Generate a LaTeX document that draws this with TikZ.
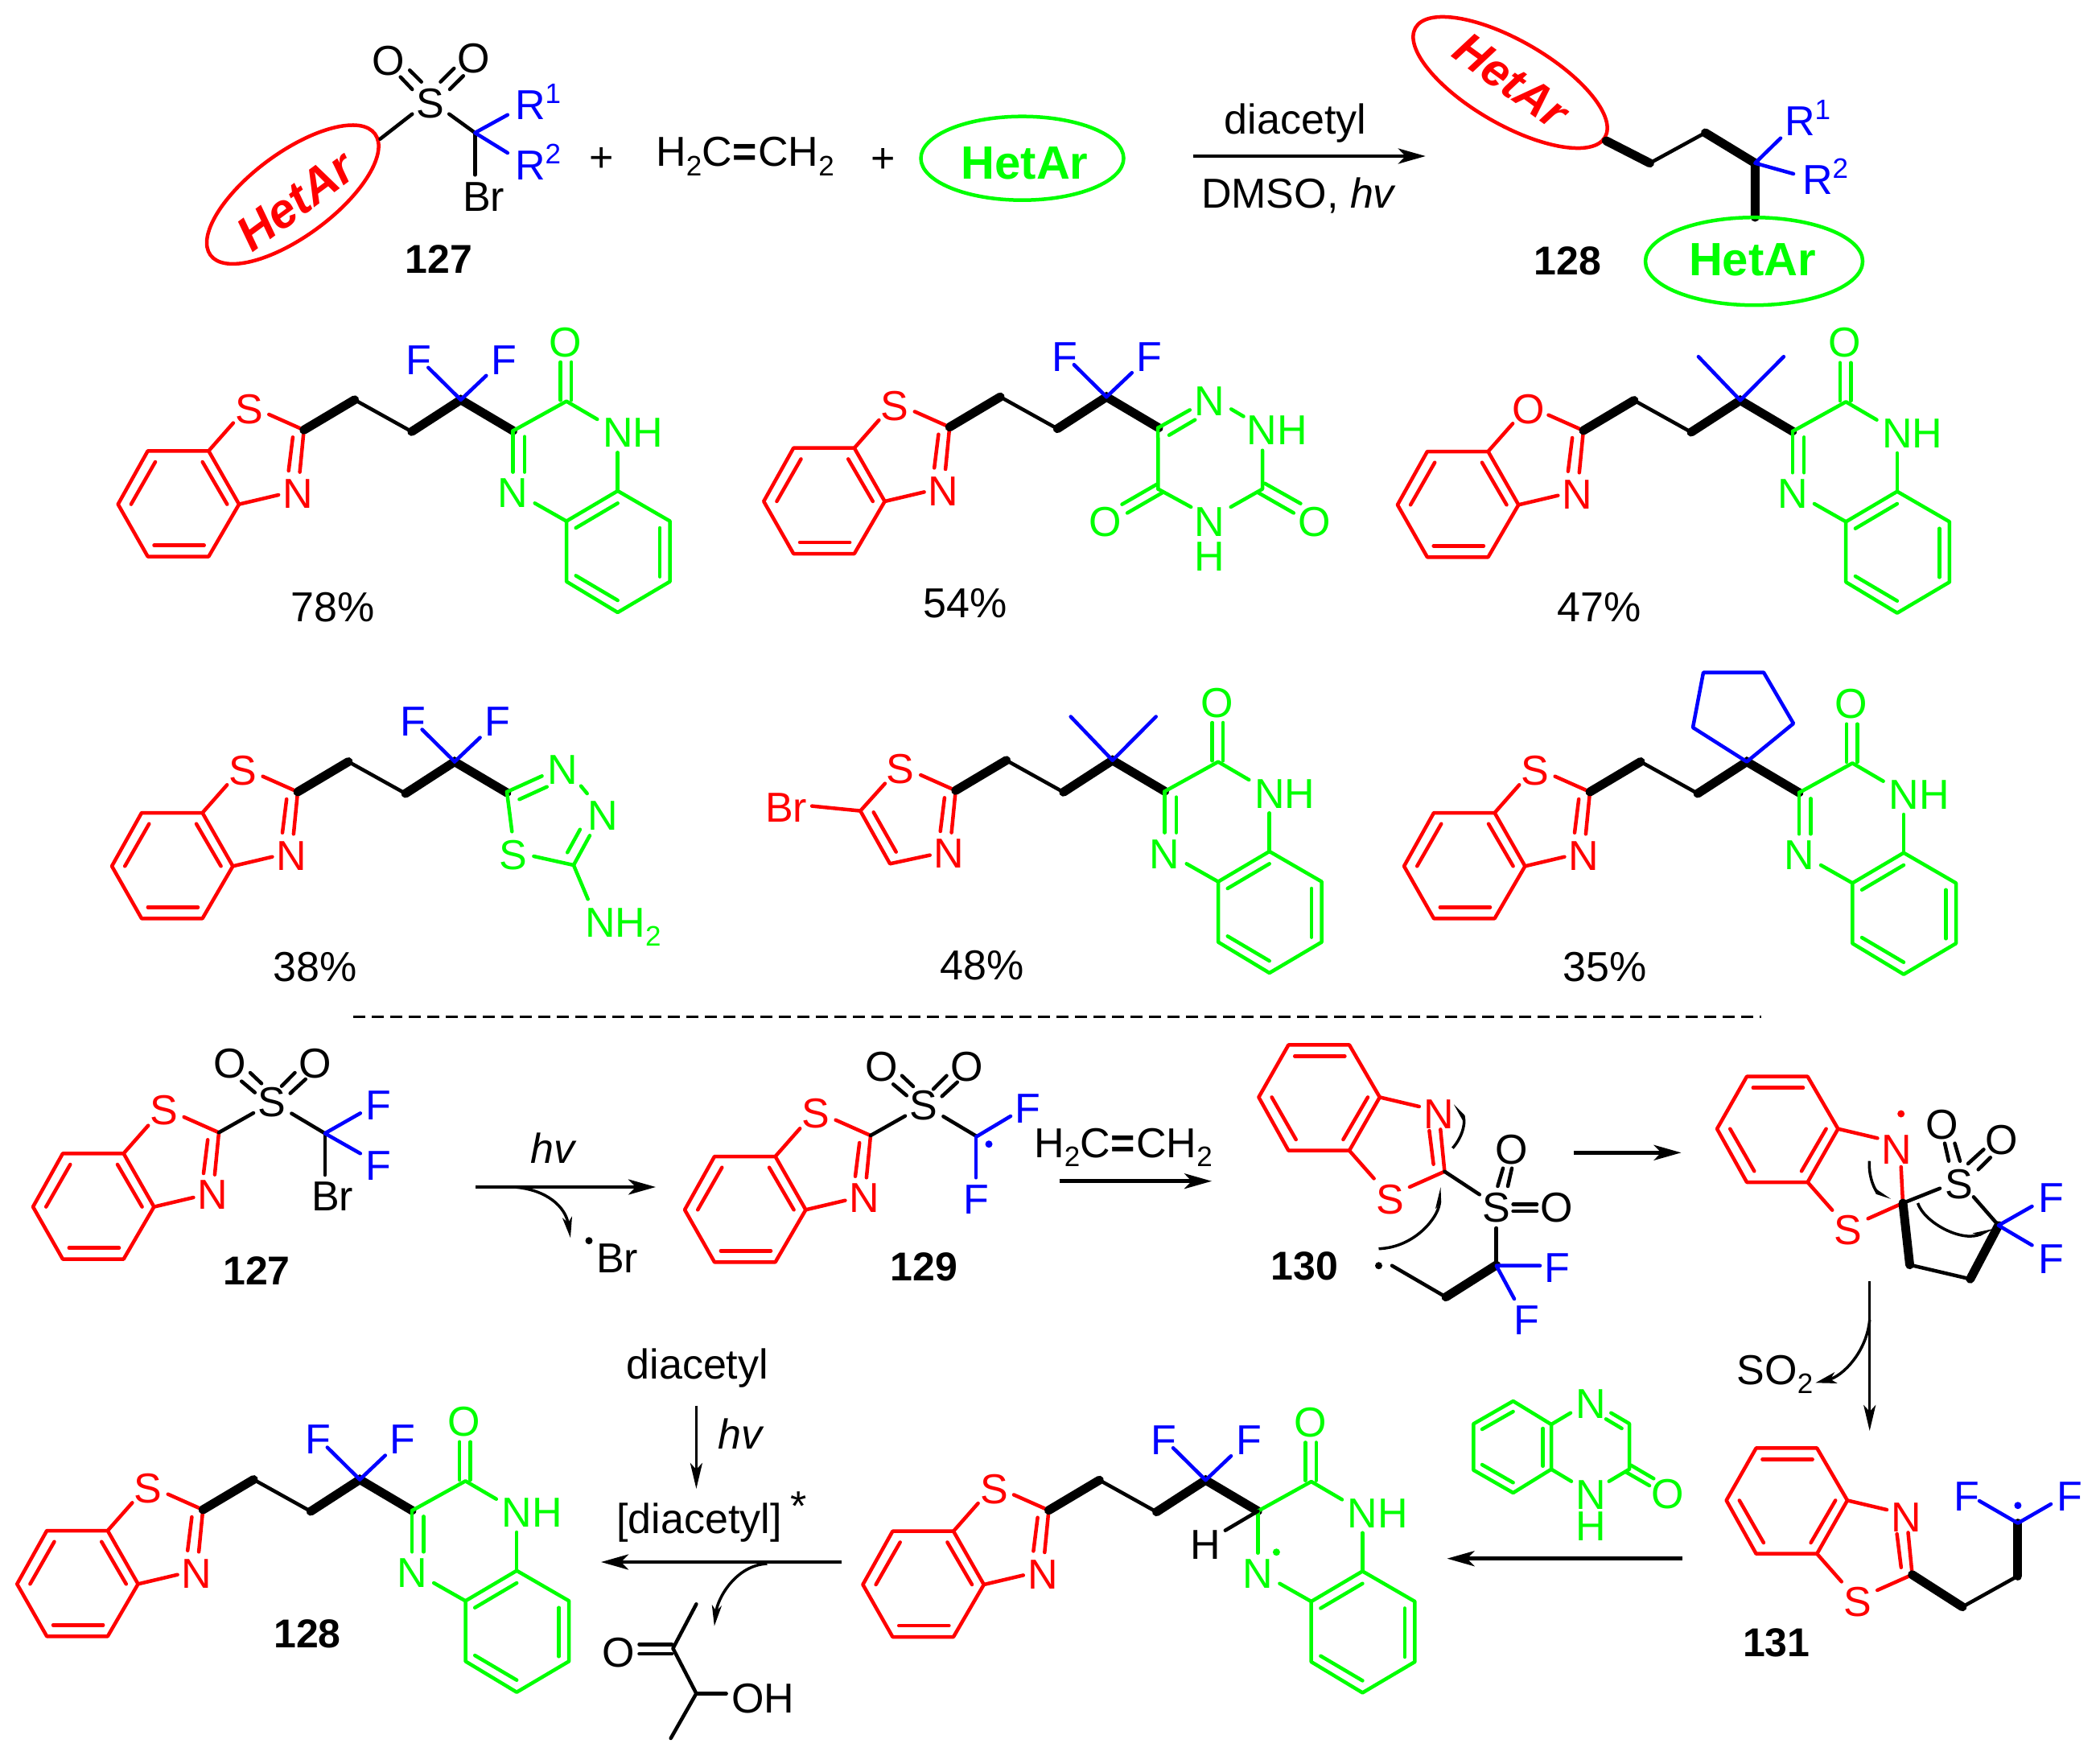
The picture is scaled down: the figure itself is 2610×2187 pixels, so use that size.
\documentclass[tikz,border=0pt]{standalone}
\usepackage{fontspec}
\setmainfont{Liberation Sans}
\usetikzlibrary{shapes.geometric,arrows.meta}
\definecolor{cr}{RGB}{255,0,0}
\definecolor{cg}{RGB}{0,255,0}
\definecolor{cb}{RGB}{0,0,255}
\newcommand{\chfont}{\fontsize{52}{60}\selectfont}
\newcommand{\chsub}[1]{\raisebox{-11.5pt}{\fontsize{35}{35}\selectfont #1}}
\newcommand{\chsup}[1]{\raisebox{20pt}{\fontsize{35}{35}\selectfont #1}}
\newcommand{\chethene}{H\chsub{2}C\kern1pt\textbf{=}\kern1pt CH\chsub{2}}
\tikzset{
  bd/.style={line width=4.5pt,line cap=round,line join=round},
  rb/.style={bd,draw=cr},
  gb/.style={bd,draw=cg},
  bb/.style={bd,draw=cb},
  kb/.style={bd,draw=black},
  hb/.style={line width=11pt,line cap=round,line join=miter,draw=black},
  atom/.style={inner sep=0pt,outer sep=0pt,font=\chfont,yshift=-1.5pt},
  ra/.style={atom,text=cr},
  ga/.style={atom,text=cg},
  ba/.style={atom,text=cb},
  ka/.style={atom,text=black},
  lab/.style={atom,text=black,font=\fontsize{50}{60}\selectfont\bfseries},
  rdot/.style={circle,fill,inner sep=0pt,minimum size=9pt},
  rxn/.style={line width=4.5pt,-{Stealth[length=34pt,width=19pt,inset=9pt]}},
  rxnb/.style={line width=3.5pt,-{Stealth[length=32pt,width=15pt,inset=8pt]}},
  half/.style={line width=3.5pt,-{Stealth[length=20pt,width=11pt,inset=5pt,harpoon]}},
  ell/.style={ellipse,inner sep=0pt,outer sep=0pt,line width=4.5pt},
  het/.style={inner sep=0pt,outer sep=0pt,font=\fontsize{58}{60}\selectfont\bfseries},
}
\newcommand{\BTring}{%
  \draw[rb] (-194,26)--(-118.4,26)--(-80.6,92.3)--(-118.4,157.3)--(-194,157.3)--(-231,92.3)--cycle;
  \draw[rb] (-184.7,39.7)--(-214.8,92.3);
  \draw[rb] (-126,39.7)--(-95.4,92.3);
  \draw[rb] (-186.2,143.3)--(-124,143.3);
}
\newcommand{\TZpart}[3]{%
  \draw[rb] (-43.4,-19.3)--(0,0);
  \draw[rb] (-87.8,-8.7)--(-118.4,26);
  \draw[rb] (-31.6,80.7)--(-80.6,92.3);
  \node[ra] (X) at (-68,#2) {#1};
  \node[ra] (N) at (-7.5,#3) {N};
}
\newcommand{\CNd}{%
  \draw[rb] (0,0)--(-5.1,52.3);
  \draw[rb] (-13.8,9)--(-19,50.7);
}
\newcommand{\Chain}{%
  \draw[hb] (0,0)--(63,-37.5);
  \draw[kb] (63,-37.5)--(134,2);
  \draw[hb] (134,2)--(195,-37.5)--(260,1);
}
\newcommand{\Fa}{%
  \draw[bb] (195,-37.5)--(154.6,-77.5);
  \draw[bb] (195,-37.5)--(226.6,-67.5);
  \node[ba] (F1) at (143,-88.5) {F};
  \node[ba] (F2) at (248.5,-88.5) {F};
}
\newcommand{\Me}{%
  \draw[bb] (143,-91.8)--(195,-37.5)--(249,-91.8);
}
\newcommand{\Qx}{%
  \draw[gb] (0,0)--(66.3,-36.7)--(104.6,-14.3);
  \draw[gb] (59,-38)--(59,-85.3);
  \draw[gb] (72.4,-38)--(72.4,-85.3);
  \node[ga] (O) at (65,-111.7) {O};
  \node[ga] (NH) at (149,1.3) {NH};
  \draw[gb] (130,27)--(130,74.7);
  \node[ga] (NB) at (0,76.3) {N};
  \draw[gb] (27,90)--(66.3,112.3);
  \draw[gb] (130,74.7)--(195,112.3)--(195,187.3)--(130,225.7)--(66.3,187.3)--(66.3,112.3)--cycle;
  \draw[gb] (130,90)--(78,120.7);
  \draw[gb] (182.4,120.7)--(182.4,181.3);
  \draw[gb] (130,210.7)--(78,180);
}
\newcommand{\QxD}{%
  \draw[gb] (0,0)--(0,51.3);
  \draw[gb] (14.3,7.3)--(14.3,51.3);
}
\newcommand{\Sulf}{%
  \draw[kb] (0,0)--(43,-24.3);
  \draw[kb] (44.8,-49.7)--(28.2,-63.7);
  \draw[kb] (53,-61)--(39,-74.3);
  \draw[kb] (78,-57.7)--(94.5,-74.3);
  \draw[kb] (88.7,-48.7)--(107.8,-66.3);
  \draw[kb] (90.4,-23.7)--(131.8,1);
  \node[ka] (SS) at (66.3,-39) {S};
  \node[ka] (O1) at (14,-87) {O};
  \node[ka] (O2) at (119.4,-87) {O};
}
\begin{document}
\begin{tikzpicture}[x=1pt,y=-1pt]
\useasboundingbox (0,0) rectangle (2610,2187);
% ---------- top equation
\node[ell,draw=cr,minimum width=254pt,minimum height=104pt,rotate=36.4] (e1) at (363.8,241.7) {};
\node[het,text=cr,rotate=36.4,font=\fontsize{60}{60}\selectfont\bfseries\itshape] (t1) at (367,250) {HetAr};
\draw[kb] (472.5,172.7)--(512.3,141.7);
\draw[kb] (558.2,141.7)--(590.3,165);
\draw[kb] (497.7,95.7)--(512.3,111);
\draw[kb] (509.2,87.3)--(523.7,101.7);
\draw[kb] (547.5,101.7)--(564.3,85);
\draw[kb] (559,111)--(575.8,94.3);
\draw[kb] (590.3,165)--(590.3,217.3);
\draw[bb] (630.9,142.7)--(590.3,165)--(630.9,190);
\node[ka] (s0) at (535.2,126.7) {S};
\node[ka] (o01) at (482.4,74) {O};
\node[ka] (o02) at (588.8,70.7) {O};
\node[ka] (br0) at (601,242.7) {Br};
\node[ba,anchor=base west,yshift=1.5pt] (r01) at (640,148.3) {R\chsup{1}};
\node[ba,anchor=base west,yshift=1.5pt] (r02) at (640,223.3) {R\chsup{2}};
\node[lab] (l127a) at (545.2,320.7) {127};
\node[ka] (p1) at (748,196.7) {+};
\node[ka,anchor=base,yshift=1.5pt] (ethy) at (926,206.7) {\chethene};
\node[ka] (p2) at (1097.6,198) {+};
\node[ell,draw=cg,minimum width=252pt,minimum height=104pt] (e2) at (1270.5,196.7) {};
\node[het,text=cg] (t2) at (1273.6,203) {HetAr};
\coordinate (a1s) at (1483,194);
\coordinate (a1e) at (1771.8,194);
\draw[rxn] (a1s)--(a1e);
\node[ka,anchor=base,yshift=1.5pt] (d1) at (1610,166.7) {diacetyl};
\node[ka,anchor=base,yshift=1.5pt] (d2) at (1613,258.3) {DMSO, \itshape hv};
\node[ell,draw=cr,minimum width=272pt,minimum height=104pt,rotate=-30] (e3) at (1877,102.5) {};
\node[het,text=cr,rotate=-36,font=\fontsize{58}{60}\selectfont\bfseries\itshape] (t3) at (1878,100) {HetAr};
\draw[hb] (1996.3,175)--(2050.5,202.7);
\draw[kb] (2050.5,202.7)--(2119.4,165);
\draw[hb] (2119.4,165)--(2181.3,202.7)--(2181.3,270);
\draw[bb] (2213,171.7)--(2181.3,202.7)--(2229,216);
\node[ba,anchor=base west,yshift=1.5pt] (r11) at (2218,168.3) {R\chsup{1}};
\node[ba,anchor=base west,yshift=1.5pt] (r12) at (2240,241.7) {R\chsup{2}};
\node[ell,draw=cg,minimum width=270pt,minimum height=109pt] (e4) at (2180,324.7) {};
\node[het,text=cg] (t4) at (2178,323.3) {HetAr};
\node[lab] (l128a) at (1948.5,322.7) {128};
% ---------- row 1
\begin{scope}[shift={(377.7,534.3)},name prefix=m1-]
  \BTring\TZpart{S}{-27.5}{78}\CNd\Chain\Fa
  \begin{scope}[shift={(260,1)}]\Qx\QxD\end{scope}
\end{scope}
\node[ka] (y1) at (413.4,752.7) {78\%};
\begin{scope}[shift={(1180.2,530.7)},name prefix=m2-]
  \BTring\TZpart{S}{-27.5}{78}\CNd\Chain\Fa
  \draw[gb] (259,1)--(298.6,-21.3);
  \draw[gb] (272.8,10)--(305,-9);
  \draw[gb] (259,1)--(259.2,77);
  \draw[gb] (350,-22.3)--(365.3,-13.3);
  \draw[gb] (388.8,29)--(388.8,77)--(349.5,99.3);
  \draw[gb] (300,99.3)--(259.2,77);
  \draw[gb] (265.3,81)--(220.9,106.7);
  \draw[gb] (257.7,71)--(214.3,96);
  \draw[gb] (382.7,81)--(427.6,106.7);
  \draw[gb] (391.8,70)--(436.2,95);
  \node[ga] (Na) at (322.7,-34) {N};
  \node[ga] (NHa) at (407,2.7) {NH};
  \node[ga] (Nb) at (322.7,116.7) {N};
  \node[ga] (Hb) at (322.7,159.3) {H};
  \node[ga] (Oa) at (194,116) {O};
  \node[ga] (Ob) at (454,116) {O};
\end{scope}
\node[ka] (y2) at (1199.6,748.3) {54\%};
\begin{scope}[shift={(1967.9,535)},name prefix=m3-]
  \BTring\TZpart{O}{-27.5}{78}\CNd\Chain\Me
  \begin{scope}[shift={(260,1)}]\Qx\QxD\end{scope}
\end{scope}
\node[ka] (y3) at (1988,752.7) {47\%};
% ---------- row 2
\begin{scope}[shift={(370,984)},name prefix=m4-]
  \BTring\TZpart{S}{-27.5}{78}\CNd\Chain\Fa
  \draw[gb] (260,0)--(303.6,-19.7);
  \draw[gb] (275.5,9.3)--(309.7,-6.3);
  \draw[gb] (352,-7.3)--(359.7,2);
  \draw[gb] (363,54.3)--(342.9,91)--(293.4,80);
  \draw[gb] (350.9,46.7)--(335.2,75.3);
  \draw[gb] (266.3,49.3)--(260,0);
  \draw[gb] (342.9,91)--(360.7,133.3);
  \node[ga] (Na) at (328.8,-29) {N};
  \node[ga] (Nb) at (378.8,27.7) {N};
  \node[ga] (Sa) at (267.9,76.7) {S};
  \node[ga,anchor=base west,yshift=1.5pt] (NH2) at (357,180) {NH\chsub{2}};
\end{scope}
\node[ka] (y4) at (391.4,1200) {38\%};
\begin{scope}[shift={(1187.7,982.3)},name prefix=m5-]
  \draw[rb] (-118.4,25.3)--(-81.6,91)--(-32,80.3);
  \draw[rb] (-102,27)--(-74,76.3);
  \draw[rb] (-118.4,25.3)--(-178.6,19.3);
  \draw[rb] (-43.4,-19.3)--(0,0);
  \draw[rb] (-87.8,-8.7)--(-118.4,25.3);
  \node[ra] (X) at (-68.9,-28.3) {S};
  \node[ra] (N) at (-8.7,76.7) {N};
  \node[ra] (Br) at (-210.7,20) {Br};
  \CNd\Chain\Me
  \begin{scope}[shift={(260,1)}]\Qx\QxD\end{scope}
\end{scope}
\node[ka] (y5) at (1220.8,1198.3) {48\%};
\begin{scope}[shift={(1976,984)},name prefix=m6-]
  \BTring\TZpart{S}{-27.5}{78}\CNd\Chain
  \draw[bb] (195,-37.5)--(253,-85)--(216,-148.4)--(141,-148.4)--(128,-80)--cycle;
  \begin{scope}[shift={(260,1)}]\Qx\QxD\end{scope}
\end{scope}
\node[ka] (y6) at (1995,1200) {35\%};
% ---------- separator
\coordinate (da) at (439,1263);
\coordinate (db) at (2189,1263);
\draw[line width=3pt,dash pattern=on 15pt off 8pt] (da)--(db);
% ---------- mechanism, row 1
\begin{scope}[shift={(272,1407.3)},name prefix=n1-]
  \BTring\TZpart{S}{-29}{76}\CNd\Sulf
  \draw[kb] (131.8,1)--(131.8,52.7);
  \draw[bb] (175.8,-24)--(131.8,1)--(175.8,26);
  \node[ba] (F1) at (198,-35) {F};
  \node[ba] (F2) at (198,40) {F};
  \node[ka] (Br) at (141,77.7) {Br};
\end{scope}
\node[lab] (l127b) at (319,1578) {127};
\coordinate (a2s) at (591.2,1475);
\coordinate (a2e) at (815,1475);
\coordinate (a2m) at (638.5,1475);
\coordinate (a2t) at (709,1538.3);
\draw[rxn] (a2s)--(a2e);
\draw[rxnb,-{Stealth[length=26pt,width=12pt,inset=7pt]}] (a2m) .. controls (680,1478) and (703,1500) .. (a2t);
\node[ka,font=\chfont\itshape,anchor=base,yshift=1.5pt] (hv1) at (686.6,1445) {hv};
\node[rdot] (bd) at (732,1541.7) {};
\node[ka] (brad) at (767,1561.7) {Br};
\begin{scope}[shift={(1082,1411)},name prefix=n2-]
  \BTring\TZpart{S}{-29}{76}\CNd\Sulf
  \draw[bb] (131,1.7)--(174,-24);
  \draw[bb] (131,1.7)--(131,52.3);
  \node[ba] (F1) at (195,-35) {F};
  \node[ba] (F2) at (131,78.3) {F};
  \node[rdot,fill=cb] (d) at (147,10.7) {};
\end{scope}
\node[lab] (l129) at (1148.4,1573) {129};
\node[ka,anchor=base,yshift=1.5pt] (eth2) at (1396,1438.3) {\chethene};
\coordinate (a3s) at (1316.7,1467.7);
\coordinate (a3e) at (1506,1467.7);
\draw[rxn] (a3s)--(a3e);
% 130
\begin{scope}[shift={(1795.4,1455.7)},yscale=-1,name prefix=n3-]
  \BTring\TZpart{S}{-33.5}{72.5}\CNd
\end{scope}
\draw[kb] (1795.4,1455.7)--(1838.8,1484.3);
\draw[kb] (1861.4,1474)--(1868,1451.7);
\draw[kb] (1874,1474)--(1879,1451.7);
\draw[kb] (1880.6,1496.7)--(1910,1496.7);
\draw[kb] (1880.6,1505)--(1910,1505);
\draw[kb] (1859.7,1526)--(1859.7,1569);
\draw[hb] (1859.7,1572)--(1797,1611.7);
\draw[kb] (1797,1611.7)--(1730,1572.7);
\draw[bb] (1914,1572.7)--(1859.7,1572.7)--(1882,1614);
\node[ka] (s3) at (1859.7,1499.3) {S};
\node[ka] (o31) at (1879,1426.7) {O};
\node[ka] (o32) at (1935,1499.3) {O};
\node[ba] (f31) at (1935,1574) {F};
\node[ba] (f32) at (1897,1639.3) {F};
\node[rdot] (d3) at (1713.5,1572.7) {};
\node[lab] (l130) at (1621.6,1571.7) {130};
\coordinate (h1s) at (1713.5,1551.7);
\coordinate (h1e) at (1788.7,1475);
\coordinate (h2s) at (1805.4,1426.7);
\coordinate (h2e) at (1805.4,1373.3);
\draw[half] (h1s) .. controls (1760,1550) and (1790,1510) .. (h1e);
\draw[half] (h2s) .. controls (1820,1410) and (1822,1390) .. (h2e);
\coordinate (a4s) at (1955.8,1432.3);
\coordinate (a4e) at (2089.5,1432.3);
\draw[rxn] (a4s)--(a4e);
% spiro intermediate
\begin{scope}[shift={(2365,1495)},yscale=-1,name prefix=n4-]
  \BTring\TZpart{S}{-32.5}{68}
  \draw[rb] (0,0)--(-2.3,45);
\end{scope}
\node[rdot,fill=cr] (d4) at (2362.7,1384) {};
\draw[hb] (2365,1495)--(2373.5,1571.7);
\draw[kb] (2373.5,1571.7)--(2448.7,1589.3);
\draw[hb] (2448.7,1589.3)--(2483.8,1522.7);
\draw[kb] (2365,1495)--(2411,1476.7);
\draw[kb] (2422,1442.7)--(2417,1420.7);
\draw[kb] (2436,1442.7)--(2429.5,1420.7);
\draw[kb] (2446,1446)--(2465.4,1428.3);
\draw[kb] (2458.7,1453.3)--(2473.8,1438.3);
\draw[kb] (2452.9,1487.3)--(2483.8,1522.7);
\draw[bb] (2525.5,1499)--(2483.8,1522.7)--(2525.5,1547.3);
\node[ka] (s4) at (2434.5,1470) {S};
\node[ka] (o41) at (2413.6,1396) {O};
\node[ka] (o42) at (2488,1415) {O};
\node[ba] (f41) at (2549,1487.3) {F};
\node[ba] (f42) at (2549,1562.7) {F};
\coordinate (h3s) at (2323.4,1442.7);
\coordinate (h3e) at (2351,1488.3);
\coordinate (h4s) at (2383.5,1495);
\coordinate (h4e) at (2478,1525);
\draw[half] (h3s) .. controls (2322,1465) and (2332,1482) .. (h3e);
\draw[half] (h4s) .. controls (2392,1520) and (2440,1545) .. (h4e);
% SO2 loss
\coordinate (a5s) at (2323.7,1591.7);
\coordinate (a5e) at (2323.7,1778);
\coordinate (a5m) at (2323.7,1640);
\coordinate (a5t) at (2256.4,1718.3);
\draw[rxnb] (a5s)--(a5e);
\draw[rxnb,-{Stealth[length=26pt,width=14pt,inset=7pt]}] (a5m) .. controls (2320,1680) and (2290,1710) .. (a5t);
\node[ka,anchor=base,yshift=1.5pt] (so2) at (2206,1720) {SO\chsub{2}};
% 131
\begin{scope}[shift={(2376.6,1956.7)},yscale=-1,name prefix=n5-]
  \BTring\TZpart{S}{-32.5}{72.4}\CNd
  \draw[hb] (0,0)--(62.4,-40);
  \draw[kb] (62.4,-40)--(131.3,-1.6);
  \draw[hb] (131.3,-1.6)--(131.3,64);
  \draw[bb] (83.4,91.7)--(131.3,64)--(172.4,87.7);
  \node[ba] (F1) at (67.4,99) {F};
  \node[ba] (F2) at (195.9,99) {F};
  \node[rdot,fill=cb] (d) at (131.3,86) {};
\end{scope}
\node[lab] (l131) at (2207.7,2039.3) {131};
% quinoxalinone reagent
\draw[gb] (1880.6,1741)--(1928,1770)--(1928,1825.7)--(1880.6,1855)--(1831.3,1826.7)--(1831.3,1769.3)--cycle;
\draw[gb] (1880.6,1754)--(1842,1776);
\draw[gb] (1917.6,1775)--(1917.6,1821.7);
\draw[gb] (1842,1820)--(1880.6,1842.3);
\draw[gb] (1928,1770)--(1952,1755.7);
\draw[gb] (2002.3,1755.7)--(2025,1769)--(2025,1825.7)--(1999.7,1840.7);
\draw[gb] (1996,1763.3)--(2015.6,1775);
\draw[gb] (1928,1825.7)--(1953,1840.7);
\draw[gb] (2027,1820.7)--(2055.3,1837.3);
\draw[gb] (2021,1829.3)--(2050,1846);
\node[ga] (qn1) at (1977,1742.7) {N};
\node[ga] (qn2) at (1977,1856) {N};
\node[ga] (qh) at (1977,1895) {H};
\node[ga] (qo) at (2072.7,1855) {O};
\coordinate (a6s) at (2090.7,1936.7);
\coordinate (a6e) at (1798.5,1936.7);
\draw[rxn] (a6s)--(a6e);
% intermediate
\begin{scope}[shift={(1303.4,1876.7)},name prefix=n6-]
  \BTring\TZpart{S}{-27.5}{78}\CNd\Chain\Fa
  \begin{scope}[shift={(260,1)}]
    \Qx
    \draw[gb] (0,0)--(0,52);
    \draw[kb] (0,0)--(-40.6,24);
    \node[ka] (H) at (-65,40) {H};
    \node[rdot,fill=cg] (d) at (23,51) {};
  \end{scope}
\end{scope}
% 128 product
\begin{scope}[shift={(252.2,1876)},name prefix=n7-]
  \BTring\TZpart{S}{-27.5}{78}\CNd\Chain\Fa
  \begin{scope}[shift={(260,1)}]\Qx\QxD\end{scope}
\end{scope}
\node[lab] (l128b) at (382,2029) {128};
% diacetyl
\node[ka,anchor=base,yshift=1.5pt] (d5) at (866.8,1713) {diacetyl};
\coordinate (a7s) at (865.4,1746.7);
\coordinate (a7e) at (865.4,1850);
\draw[rxnb] (a7s)--(a7e);
\node[ka,font=\chfont\itshape,anchor=base,yshift=1.5pt] (hv2) at (919.6,1800) {hv};
\node[ka,anchor=base,yshift=1.5pt] (d6) at (868.9,1905) {[diacetyl]};
\node[ka,anchor=base,yshift=1.5pt] (st) at (992.6,1889) {*};
\coordinate (a8s) at (1046,1941);
\coordinate (a8e) at (747,1941);
\coordinate (a8m) at (953.4,1943);
\coordinate (a8t) at (887.8,2020.7);
\draw[rxn] (a8s)--(a8e);
\draw[rxnb,-{Stealth[length=26pt,width=12pt,inset=7pt]}] (a8m) .. controls (915,1945) and (892,1985) .. (a8t);
% acetoin
\draw[kb] (865.4,1993.3)--(836.4,2048.3)--(865.4,2104.3)--(833.7,2160);
\draw[kb] (865.4,2104.3)--(902.6,2104.3);
\draw[kb] (794.5,2043.3)--(835,2043.3);
\draw[kb] (794.5,2055)--(835,2055);
\node[ka] (ao) at (768.8,2052) {O};
\node[ka] (aoh) at (948,2109) {OH};
\end{tikzpicture}
\end{document}
